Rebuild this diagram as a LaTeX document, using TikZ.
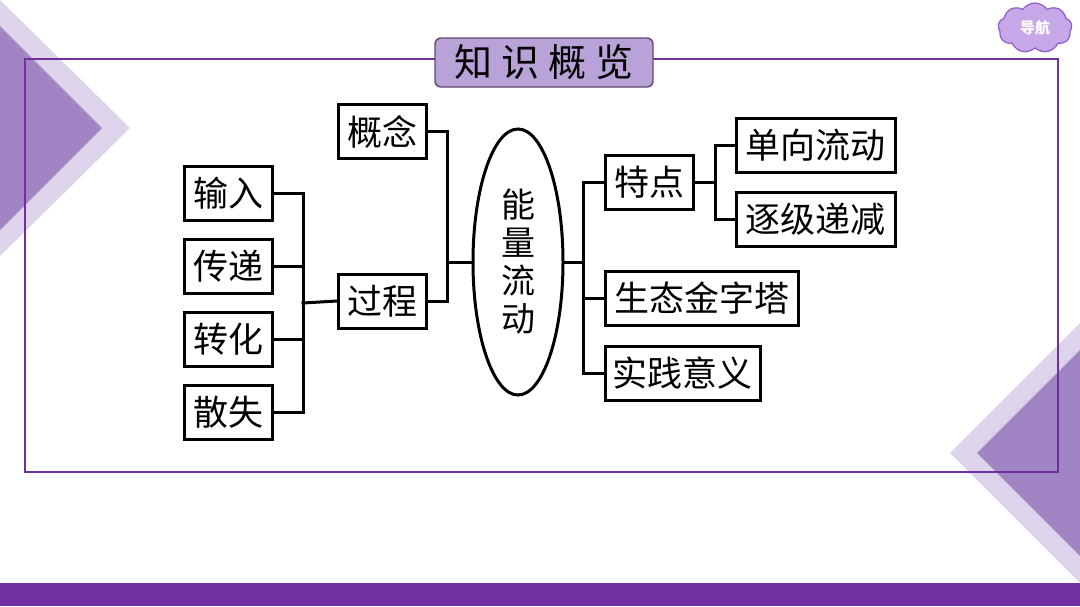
\documentclass[tikz,border=0pt]{standalone}
\usepackage{fontspec}
\newfontfamily\cjk{Noto Sans CJK SC}
\usetikzlibrary{shapes.geometric,shapes.symbols}
\definecolor{deeppurple}{HTML}{7030A0}
\definecolor{darktri}{HTML}{A084C4}
\definecolor{lighttri}{HTML}{DDD3EA}
\definecolor{titlefill}{HTML}{B9A2D8}
\definecolor{titledraw}{HTML}{5E4A70}
\definecolor{cloudfill}{HTML}{C6A8E8}
\definecolor{clouddraw}{HTML}{8E5CC8}
\tikzset{
  conceptbox/.style={draw=black, line width=3pt, inner sep=0pt, minimum height=54pt,
    font=\cjk\fontsize{35}{35}\selectfont},
  link/.style={line width=3pt, line cap=rect},
}
\begin{document}
\begin{tikzpicture}[x=1pt,y=-1pt]
\useasboundingbox (0,0) rectangle (1080,606);
\fill[white] (0,0) rectangle (1080,606);
% decorations
\fill[lighttri] (0,0) -- (130,128) -- (0,256) -- cycle;
\fill[darktri] (0,26) -- (102,128) -- (0,230) -- cycle;
\fill[lighttri] (950,453) -- (1080,323) -- (1080,583) -- cycle;
\fill[darktri] (977,453) -- (1080,350) -- (1080,556) -- cycle;
\fill[deeppurple] (0,583) rectangle (1080,606);
% frame
\draw[deeppurple, line width=2pt] (25,59) rectangle (1058,472);
% title
\node[draw=titledraw, fill=titlefill, line width=1.4pt, rounded corners=6pt,
  minimum width=218pt, minimum height=49pt, inner sep=0pt,
  font=\cjk\fontsize{38}{38}\selectfont] (title) at (544,62.5)
  {知\hspace{9pt}识\hspace{9pt}概\hspace{9pt}览};
% cloud
\node[cloud, cloud puffs=9, cloud puff arc=110, aspect=1.5, draw=clouddraw, fill=cloudfill,
  line width=1.2pt, minimum width=74pt, minimum height=50pt, inner sep=0pt,
  text=white, font=\cjk\bfseries\fontsize{15}{15}\selectfont] (nav) at (1035,28) {导航};
% nodes
\node[conceptbox, minimum width=88pt] (shuru) at (228,193) {输入};
\node[conceptbox, minimum width=88pt] (chuandi) at (228,266) {传递};
\node[conceptbox, minimum width=88pt] (zhuanhua) at (228,339) {转化};
\node[conceptbox, minimum width=88pt] (sanshi) at (228,412) {散失};
\node[conceptbox, minimum width=88pt] (gainian) at (382.5,131.5) {概念};
\node[conceptbox, minimum width=88pt] (guocheng) at (382.5,301) {过程};
\node[ellipse, draw=black, line width=3pt, minimum width=90pt, minimum height=266pt, inner sep=0pt,
  align=center, font=\cjk\fontsize{34}{38}\selectfont] (ell) at (518,262) {能\\量\\流\\动};
\node[conceptbox, minimum width=88pt] (tedian) at (649,182.5) {特点};
\node[conceptbox, minimum width=193pt] (shengtai) at (701.5,298.5) {生态金字塔};
\node[conceptbox, minimum width=155pt] (shijian) at (682.5,373) {实践意义};
\node[conceptbox, minimum width=159pt] (danxiang) at (815.5,145) {单向流动};
\node[conceptbox, minimum width=159pt] (zhuji) at (815.5,219.5) {逐级递减};
% bus coordinates
\coordinate (bL) at (303,303);
\coordinate (bM) at (447,262);
\coordinate (bR) at (583,262);
\coordinate (bT) at (715,182.5);
% connectors
\draw[link] (shuru.east) -| (bL) |- (sanshi.east);
\draw[link] (chuandi.east) -- (chuandi.east -| bL);
\draw[link] (zhuanhua.east) -- (zhuanhua.east -| bL);
\draw[link] (bL) -- (guocheng.west);
\draw[link] (gainian.east) -| (bM) |- (guocheng.east);
\draw[link] (bM) -- (ell.west);
\draw[link] (ell.east) -- (bR);
\draw[link] (tedian.west) -| (bR) |- (shijian.west);
\draw[link] (shengtai.west) -- (shengtai.west -| bR);
\draw[link] (danxiang.west) -| (bT) |- (zhuji.west);
\draw[link] (tedian.east) -- (bT);
\end{tikzpicture}
\end{document}
